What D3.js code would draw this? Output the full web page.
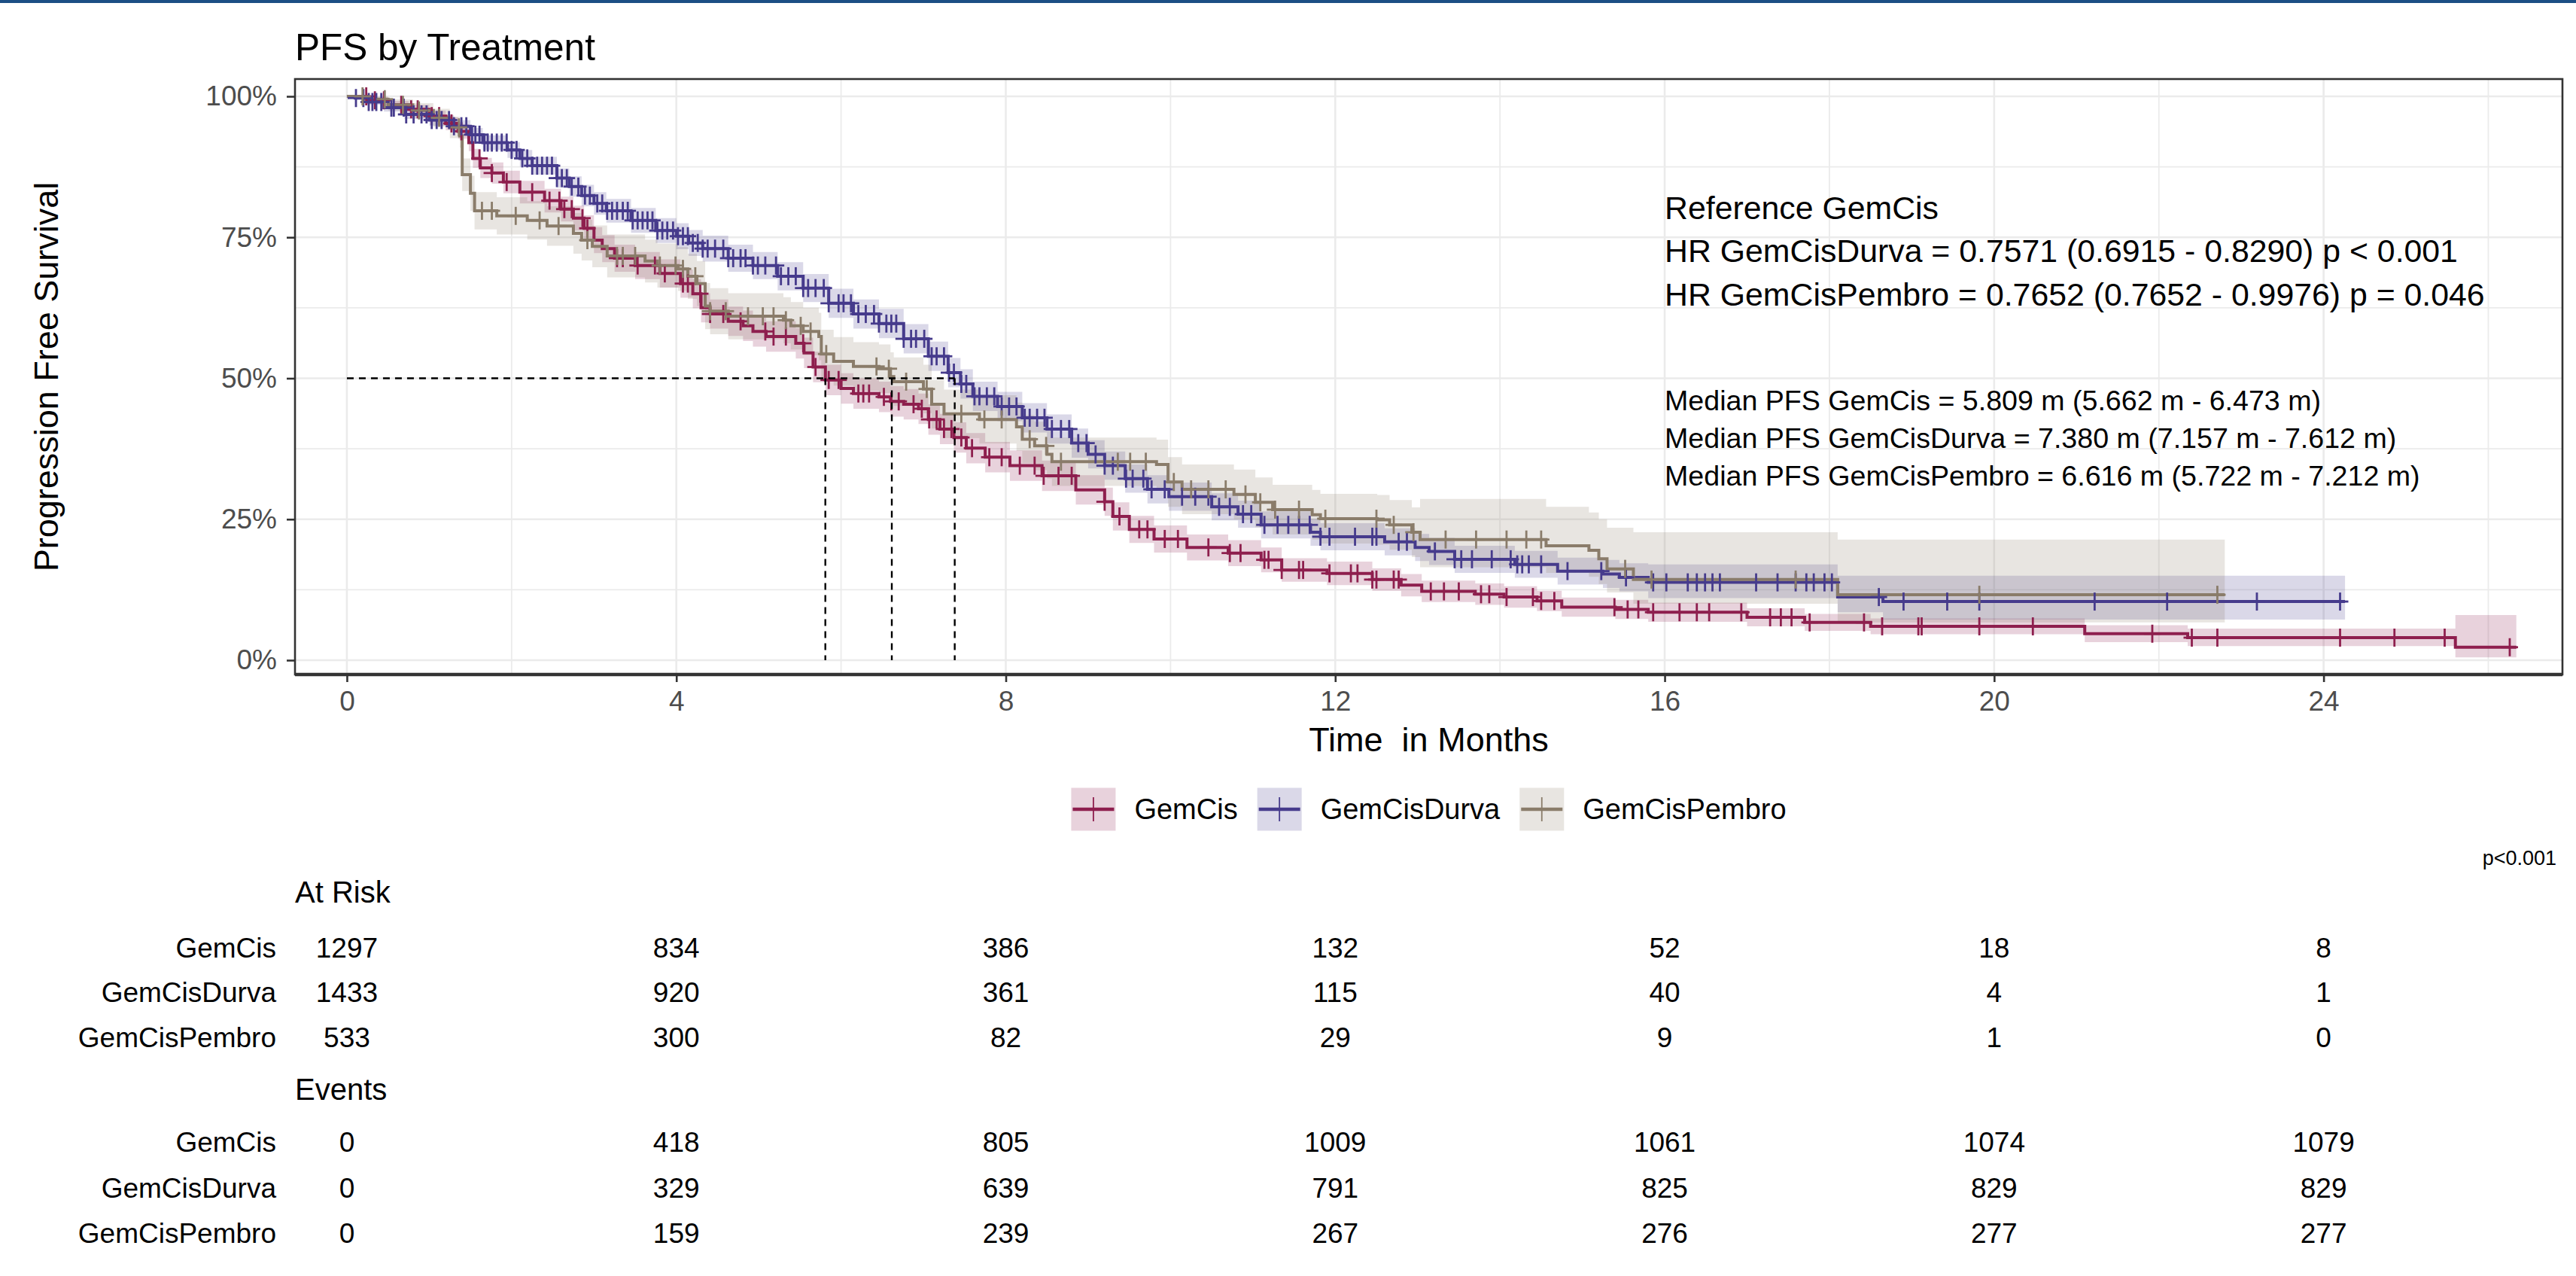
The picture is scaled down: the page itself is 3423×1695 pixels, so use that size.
<!DOCTYPE html>
<html>
<head>
<meta charset="utf-8">
<script src="https://cdnjs.cloudflare.com/ajax/libs/d3/7.8.5/d3.min.js"></script>
<style>
body { margin: 0; background: #fff; }
text { font-family: "Liberation Sans", Arial, sans-serif; }
</style>
</head>
<body>
<script>
// groups and colours
var groups = ["GemCis", "GemCisDurva", "GemCisPembro"];
var colors = ["#8E1F4E", "#463B8C", "#8A7C6A"];

// Kaplan-Meier steps: [time, survival, lower, upper]
var gemcisKM = [
  [0, 1, 1, 1], [0.25, .993, .988, .998], [0.5, .985, .978, .992], [0.75, .977, .968, .985],
  [1.0, .965, .955, .975], [1.2, .952, .94, .963], [1.35, .938, .925, .951], [1.48, .918, .903, .933],
  [1.53, .89, .873, .907], [1.62, .873, .855, .891], [1.76, .864, .845, .883], [1.9, .848, .828, .868],
  [2.1, .83, .81, .85], [2.4, .815, .794, .836], [2.6, .80, .778, .822], [2.75, .784, .762, .806],
  [2.88, .766, .743, .789], [3.0, .745, .722, .768], [3.1, .73, .706, .754], [3.25, .713, .689, .737],
  [3.5, .70, .676, .724], [3.8, .686, .661, .711], [4.05, .668, .643, .693], [4.2, .65, .624, .676],
  [4.3, .625, .599, .651], [4.41, .614, .588, .64], [4.63, .601, .575, .627], [4.81, .593, .566, .62],
  [4.93, .583, .556, .61], [5.09, .574, .547, .601], [5.45, .562, .535, .589], [5.55, .545, .518, .572],
  [5.66, .52, .493, .547], [5.81, .497, .47, .524], [6.0, .482, .455, .509], [6.15, .473, .446, .5],
  [6.46, .467, .44, .494], [6.6, .459, .432, .486], [6.76, .454, .427, .481], [6.94, .446, .419, .473],
  [7.06, .427, .4, .454], [7.2, .41, .383, .437], [7.37, .395, .368, .422], [7.52, .376, .349, .403],
  [7.75, .36, .333, .387], [8.05, .345, .318, .372], [8.44, .327, .3, .354], [8.85, .302, .276, .328],
  [9.2, .281, .256, .306], [9.3, .255, .23, .28], [9.5, .232, .208, .256], [9.8, .215, .191, .239],
  [10.2, .2, .177, .223], [10.7, .19, .167, .213], [11.1, .178, .156, .2], [11.35, .16, .139, .181],
  [11.9, .154, .133, .175], [12.45, .143, .123, .163], [12.8, .133, .113, .153], [13.05, .122, .103, .141],
  [13.7, .117, .098, .136], [14.05, .112, .093, .131], [14.45, .105, .087, .123], [14.75, .094, .077, .111],
  [15.4, .09, .073, .107], [15.8, .085, .068, .102], [17.0, .076, .06, .092], [17.7, .067, .052, .082],
  [18.5, .06, .046, .074], [21.1, .047, .032, .062], [22.35, .04, .025, .056], [25.6, .023, .005, .08]
];
var durvaKM = [
  [0, 1, 1, 1], [0.1, .997, .994, 1], [0.25, .99, .985, .995], [0.45, .98, .973, .987],
  [0.7, .968, .96, .976], [1.0, .958, .948, .967], [1.3, .947, .936, .958], [1.5, .932, .92, .944],
  [1.65, .918, .905, .931], [1.95, .905, .891, .919], [2.1, .89, .875, .905], [2.25, .877, .861, .893],
  [2.55, .855, .838, .872], [2.7, .84, .822, .858], [2.85, .824, .805, .843], [3.0, .81, .79, .83],
  [3.15, .797, .776, .818], [3.45, .78, .758, .802], [3.75, .762, .74, .784], [4.0, .752, .729, .775],
  [4.15, .74, .717, .763], [4.32, .73, .707, .753], [4.63, .713, .689, .737], [4.93, .70, .676, .724],
  [5.23, .681, .656, .706], [5.54, .66, .635, .685], [5.85, .633, .607, .659], [6.15, .614, .588, .64],
  [6.46, .597, .571, .623], [6.76, .57, .544, .596], [7.06, .539, .513, .565], [7.3, .51, .484, .536],
  [7.45, .49, .464, .516], [7.6, .468, .442, .494], [7.9, .45, .424, .476], [8.2, .43, .404, .456],
  [8.5, .41, .384, .436], [8.8, .385, .359, .411], [9.0, .365, .34, .39], [9.2, .345, .32, .37],
  [9.45, .322, .297, .347], [9.72, .303, .278, .328], [9.98, .29, .265, .315], [10.5, .272, .248, .296],
  [10.82, .259, .235, .283], [11.1, .24, .216, .264], [11.7, .227, .203, .251], [11.82, .219, .195, .243],
  [12.6, .21, .186, .234], [12.97, .2, .176, .224], [13.14, .193, .169, .217], [13.45, .179, .155, .203],
  [14.18, .17, .146, .194], [14.7, .158, .134, .182], [15.25, .153, .128, .178], [15.45, .147, .122, .172],
  [15.8, .138, .11, .17], [18.1, .112, .085, .15], [18.65, .104, .072, .15]
];
var pembroKM = [
  [0, 1, 1, 1], [0.2, .995, .989, 1], [0.5, .985, .975, .995], [0.8, .975, .962, .988],
  [1.05, .962, .946, .978], [1.25, .945, .926, .964], [1.37, .93, .909, .951], [1.4, .861, .832, .89],
  [1.5, .828, .797, .859], [1.55, .797, .764, .83], [1.82, .788, .755, .821], [2.19, .78, .746, .814],
  [2.43, .77, .735, .805], [2.75, .757, .721, .793], [2.85, .745, .709, .781], [2.98, .734, .697, .771],
  [3.16, .717, .679, .755], [3.62, .708, .67, .746], [3.77, .70, .661, .739], [4.02, .694, .655, .733],
  [4.14, .681, .641, .721], [4.25, .668, .628, .708], [4.35, .628, .587, .669], [4.41, .619, .578, .66],
  [4.63, .61, .569, .651], [5.3, .603, .562, .644], [5.39, .593, .551, .635], [5.54, .583, .541, .625],
  [5.73, .574, .532, .616], [5.76, .543, .5, .586], [5.91, .53, .487, .573], [6.15, .521, .478, .564],
  [6.46, .517, .474, .56], [6.6, .503, .46, .546], [6.64, .494, .451, .537], [7.0, .481, .438, .524],
  [7.1, .454, .411, .497], [7.25, .437, .394, .48], [7.68, .427, .384, .47], [8.13, .414, .371, .457],
  [8.2, .392, .349, .435], [8.35, .38, .337, .423], [8.5, .365, .322, .408], [8.56, .352, .309, .395],
  [9.83, .347, .303, .391], [9.97, .316, .272, .36], [10.14, .303, .259, .347], [10.77, .294, .25, .338],
  [11.03, .28, .236, .324], [11.24, .267, .223, .311], [11.72, .258, .214, .302], [11.82, .251, .207, .295],
  [12.51, .249, .205, .293], [12.66, .24, .196, .284], [12.93, .227, .183, .271], [13.03, .214, .165, .286],
  [14.56, .203, .155, .272], [15.08, .195, .148, .262], [15.2, .18, .135, .25], [15.3, .162, .12, .235],
  [15.62, .143, .1, .227], [18.1, .116, .067, .214]
];
var kmEnd = [26.34, 24.26, 22.8];

// censor times (months)
var gemcisCensor = [.235, .34, .45, .66, .78, .86, 1.03, 1.12, 1.27, 1.39, 1.61, 1.76, 1.94, 2.25, 2.46, 2.58,
  2.64, 2.73, 2.86, 2.92, 3.28, 3.35, 3.53, 3.74, 3.86, 4.08, 4.14, 4.29, 4.41, 4.57, 4.78, 5.08, 5.18, 5.33,
  5.54, 5.69, 5.85, 5.97, 6.21, 6.27, 6.34, 6.52, 6.61, 6.7, 6.88, 6.98, 7.07, 7.16, 7.25, 7.34, 7.46, 7.59,
  7.8, 7.95, 8.17, 8.35, 8.46, 8.64, 8.8, 9.2, 9.38, 9.62, 9.72, 9.93, 10.09, 10.46, 10.72, 10.85, 11.14,
  11.19, 11.35, 11.56, 11.61, 11.93, 12.19, 12.27, 12.45, 12.5, 12.71, 12.77, 13.16, 13.32, 13.5, 13.77,
  13.87, 14.08, 14.4, 14.5, 14.66, 15.39, 15.55, 15.68, 15.86, 16.18, 16.39, 16.54, 16.93, 17.28, 17.41,
  17.54, 17.76, 18.42, 18.64, 19.08, 19.12, 19.82, 20.47, 21.92, 22.4, 22.71, 24.2, 24.86, 25.47, 26.26];
var durvaCensor = [.11, .2, .265, .31, .357, .418, .54, .57, .69, .72, .81, .906, .967, 1.03, 1.09, 1.15,
  1.24, 1.3, 1.39, 1.45, 1.52, 1.56, 1.61, 1.67, 1.71, 1.76, 1.82, 1.88, 1.94, 2.0, 2.06, 2.13, 2.19, 2.25,
  2.31, 2.37, 2.43, 2.49, 2.55, 2.61, 2.67, 2.73, 2.81, 2.89, 2.95, 3.04, 3.1, 3.16, 3.22, 3.28, 3.35, 3.41,
  3.47, 3.53, 3.59, 3.65, 3.71, 3.77, 3.83, 3.89, 3.96, 4.02, 4.08, 4.14, 4.2, 4.26, 4.32, 4.38, 4.47, 4.57,
  4.63, 4.69, 4.78, 4.84, 4.93, 4.99, 5.08, 5.21, 5.27, 5.36, 5.45, 5.54, 5.6, 5.69, 5.79, 5.85, 5.97, 6.03,
  6.12, 6.21, 6.3, 6.4, 6.46, 6.55, 6.61, 6.67, 6.76, 6.85, 6.91, 7.01, 7.1, 7.16, 7.25, 7.31, 7.37, 7.46,
  7.52, 7.62, 7.68, 7.77, 7.86, 7.95, 8.04, 8.13, 8.23, 8.29, 8.38, 8.47, 8.56, 8.67, 8.77, 8.88, 8.98,
  9.09, 9.2, 9.3, 9.46, 9.54, 9.67, 9.77, 9.93, 10.14, 10.3, 10.46, 10.59, 10.72, 10.88, 10.98, 11.14, 11.3,
  11.43, 11.56, 11.69, 11.82, 11.93, 12.24, 12.45, 12.5, 12.77, 12.87, 13.21, 13.45, 13.53, 13.66, 13.9,
  14.13, 14.21, 14.27, 14.35, 14.5, 14.82, 15.23, 15.53, 15.86, 16.02, 16.28, 16.39, 16.49, 16.58, 16.67,
  17.11, 17.37, 17.59, 17.72, 17.81, 17.94, 18.03, 18.6, 18.9, 19.43, 19.82, 21.22, 22.1, 23.19, 24.2];
var pembroCensor = [.19, .46, .68, .875, 1.12, 1.36, 1.64, 1.76, 2.05, 2.34, 2.57, 2.92, 3.28, 3.35, 3.5,
  3.8, 3.99, 4.08, 4.23, 4.41, 4.6, 4.87, 5.05, 5.18, 5.33, 5.51, 5.63, 5.82, 6.43, 6.58, 6.79, 7.04, 7.46,
  7.74, 7.95, 8.29, 8.49, 8.67, 9.36, 9.51, 9.7, 10.04, 10.25, 10.46, 10.67, 10.91, 11.09, 11.27, 11.56,
  11.88, 12.5, 12.71, 12.95, 13.34, 13.71, 14.08, 14.32, 14.5, 15.52, 15.84, 17.59, 19.82, 22.71];

var medianPFS = [5.809, 7.380, 6.616];

// tick labels
var xTicks = [0, 4, 8, 12, 16, 20, 24];
var yTicks = [0, 0.25, 0.5, 0.75, 1];

// risk table
var tableTimes = [0, 4, 8, 12, 16, 20, 24];
var atRiskGemCis = [1297, 834, 386, 132, 52, 18, 8];
var atRiskDurva = [1433, 920, 361, 115, 40, 4, 1];
var atRiskPembro = [533, 300, 82, 29, 9, 1, 0];
var eventsGemCis = [0, 418, 805, 1009, 1061, 1074, 1079];
var eventsDurva = [0, 329, 639, 791, 825, 829, 829];
var eventsPembro = [0, 159, 239, 267, 276, 277, 277];

var hrLines = ["Reference GemCis",
  "HR GemCisDurva = 0.7571 (0.6915 - 0.8290) p < 0.001",
  "HR GemCisPembro = 0.7652 (0.7652 - 0.9976) p = 0.046"];
var medianLines = ["Median PFS GemCis = 5.809 m (5.662 m - 6.473 m)",
  "Median PFS GemCisDurva = 7.380 m (7.157 m - 7.612 m)",
  "Median PFS GemCisPembro = 6.616 m (5.722 m - 7.212 m)"];

var W = 3423, H = 1695;
var panel = {left: 392, right: 3405, top: 105, bottom: 896};

var svg = d3.select("body").append("svg").attr("width", W).attr("height", H);
svg.append("rect").attr("width", W).attr("height", H).attr("fill", "#fff");
svg.append("rect").attr("width", W).attr("height", 4).attr("fill", "#1c4f85");

var x = d3.scaleLinear().domain([-0.63, 26.9]).range([panel.left, panel.right]);
var y = d3.scaleLinear().domain([-0.0254, 1.0307]).range([panel.bottom, panel.top]);

// grid
var grid = svg.append("g");
grid.selectAll(".gx").data(d3.range(0, 27, 2)).enter().append("line")
  .attr("x1", d => x(d)).attr("x2", d => x(d))
  .attr("y1", panel.top).attr("y2", panel.bottom)
  .attr("stroke", "#EBEBEB").attr("stroke-width", d => d % 4 === 0 ? 2.6 : 1.8);
grid.selectAll(".gy").data(d3.range(0, 1.01, 0.125)).enter().append("line")
  .attr("y1", d => y(d)).attr("y2", d => y(d))
  .attr("x1", panel.left).attr("x2", panel.right)
  .attr("stroke", "#EBEBEB").attr("stroke-width", (d, i) => i % 2 === 0 ? 2.6 : 1.8);

var kms = [gemcisKM, durvaKM, pembroKM];
var censors = [gemcisCensor, durvaCensor, pembroCensor];

function withEnd(km, end) {
  var last = km[km.length - 1];
  return km.concat([[end, last[1], last[2], last[3]]]);
}
function survAt(km, t) {
  var s = 1;
  km.forEach(function(r) { if (r[0] <= t) s = r[1]; });
  return s;
}

var area = d3.area().curve(d3.curveStepAfter)
  .x(d => x(d[0])).y0(d => y(d[2])).y1(d => y(d[3]));
var line = d3.line().curve(d3.curveStepAfter)
  .x(d => x(d[0])).y(d => y(d[1]));

var plot = svg.append("g");
kms.forEach(function(km, i) {
  plot.append("path").attr("d", area(withEnd(km, kmEnd[i])))
    .attr("fill", colors[i]).attr("fill-opacity", 0.2);
});
kms.forEach(function(km, i) {
  plot.append("path").attr("d", line(withEnd(km, kmEnd[i])))
    .attr("fill", "none").attr("stroke", colors[i]).attr("stroke-width", 4);
});
kms.forEach(function(km, i) {
  var g = plot.append("g").attr("stroke", colors[i]).attr("stroke-width", 2.8);
  censors[i].forEach(function(t) {
    var cx = x(t), cy = y(survAt(km, t));
    g.append("line").attr("x1", cx).attr("x2", cx).attr("y1", cy - 12).attr("y2", cy + 12);
    g.append("line").attr("x1", cx - 11).attr("x2", cx + 11).attr("y1", cy).attr("y2", cy);
  });
});

// median lines
var maxMed = d3.max(medianPFS);
plot.append("line").attr("x1", x(0)).attr("x2", x(maxMed)).attr("y1", y(0.5)).attr("y2", y(0.5))
  .attr("stroke", "#000").attr("stroke-width", 2.4).attr("stroke-dasharray", "9,7");
plot.selectAll(".med").data(medianPFS).enter().append("line")
  .attr("x1", d => x(d)).attr("x2", d => x(d)).attr("y1", y(0.5)).attr("y2", y(0))
  .attr("stroke", "#000").attr("stroke-width", 2.4).attr("stroke-dasharray", "9,7");

// annotations
svg.selectAll(".hr").data(hrLines).enter().append("text")
  .attr("x", x(16)).attr("y", (d, i) => 276 + i * 57.5).attr("dy", "0.35em")
  .attr("font-size", 42.8).text(d => d);
svg.selectAll(".md").data(medianLines).enter().append("text")
  .attr("x", x(16)).attr("y", (d, i) => 532 + i * 50).attr("dy", "0.35em")
  .attr("font-size", 37.6).text(d => d);

// panel border
svg.append("rect").attr("x", panel.left).attr("y", panel.top)
  .attr("width", panel.right - panel.left).attr("height", panel.bottom - panel.top)
  .attr("fill", "none").attr("stroke", "#333").attr("stroke-width", 2.6);
svg.append("line").attr("x1", panel.left).attr("x2", panel.right)
  .attr("y1", panel.bottom).attr("y2", panel.bottom).attr("stroke", "#333").attr("stroke-width", 4.5);

// axes
var xAxis = svg.append("g").attr("transform", "translate(0," + panel.bottom + ")")
  .call(d3.axisBottom(x).tickValues(xTicks).tickSize(10).tickPadding(12));
var yAxis = svg.append("g").attr("transform", "translate(" + panel.left + ",0)")
  .call(d3.axisLeft(y).tickValues(yTicks).tickSize(11).tickPadding(13)
    .tickFormat(d => Math.round(d * 100) + "%"));
[xAxis, yAxis].forEach(function(a) {
  a.select(".domain").remove();
  a.selectAll(".tick line").attr("stroke", "#333").attr("stroke-width", 2.6);
  a.selectAll(".tick text").attr("fill", "#4D4D4D").attr("font-size", 37)
    .style("font-family", '"Liberation Sans", Arial, sans-serif');
});

// titles
svg.append("text").attr("x", panel.left).attr("y", 80).attr("font-size", 49.5).text("PFS by Treatment");
svg.append("text").attr("x", (panel.left + panel.right) / 2).attr("y", 982).attr("dy", "0.35em")
  .attr("text-anchor", "middle").attr("font-size", 45).style("white-space", "pre").text("Time  in Months");
svg.append("text").attr("transform", "translate(61," + (panel.top + panel.bottom) / 2 + ") rotate(-90)")
  .attr("dy", "0.35em").attr("text-anchor", "middle").attr("font-size", 45).text("Progression Free Survival");

// legend
var legend = svg.append("g");
var keyW = 59, keyH = 57, keyGap = 25, itemGap = 26, legY = 1075;
var items = groups.map(function(g, i) {
  var t = legend.append("text").attr("font-size", 38).attr("dy", "0.35em").attr("y", legY).text(g);
  return {text: t, w: t.node().getComputedTextLength(), i: i};
});
var total = d3.sum(items, d => keyW + keyGap + d.w) + itemGap * (items.length - 1);
var cur = (panel.left + panel.right) / 2 - total / 2;
items.forEach(function(it) {
  var c = colors[it.i];
  legend.append("rect").attr("x", cur).attr("y", legY - keyH / 2).attr("width", keyW).attr("height", keyH)
    .attr("fill", c).attr("fill-opacity", 0.2);
  legend.append("line").attr("x1", cur + 2).attr("x2", cur + keyW - 2).attr("y1", legY).attr("y2", legY)
    .attr("stroke", c).attr("stroke-width", 4.5);
  legend.append("line").attr("x1", cur + keyW / 2).attr("x2", cur + keyW / 2)
    .attr("y1", legY - 16).attr("y2", legY + 16).attr("stroke", c).attr("stroke-width", 1.8);
  it.text.attr("x", cur + keyW + keyGap);
  cur += keyW + keyGap + it.w + itemGap;
});

svg.append("text").attr("x", 3397).attr("y", 1140).attr("dy", "0.35em").attr("text-anchor", "end")
  .attr("font-size", 27).text("p<0.001");

// risk table
function tableBlock(title, titleY, rows, rowY) {
  svg.append("text").attr("x", panel.left).attr("y", titleY).attr("dy", "0.35em")
    .attr("font-size", 40).text(title);
  rows.forEach(function(vals, r) {
    svg.append("text").attr("x", 367).attr("y", rowY[r]).attr("dy", "0.35em")
      .attr("text-anchor", "end").attr("font-size", 37).text(groups[r]);
    svg.selectAll(null).data(vals).enter().append("text")
      .attr("x", (d, k) => x(tableTimes[k])).attr("y", rowY[r]).attr("dy", "0.35em")
      .attr("text-anchor", "middle").attr("font-size", 37).text(d => d);
  });
}
tableBlock("At Risk", 1185, [atRiskGemCis, atRiskDurva, atRiskPembro], [1259, 1318, 1378]);
tableBlock("Events", 1447, [eventsGemCis, eventsDurva, eventsPembro], [1517, 1578, 1638]);
</script>
</body>
</html>
